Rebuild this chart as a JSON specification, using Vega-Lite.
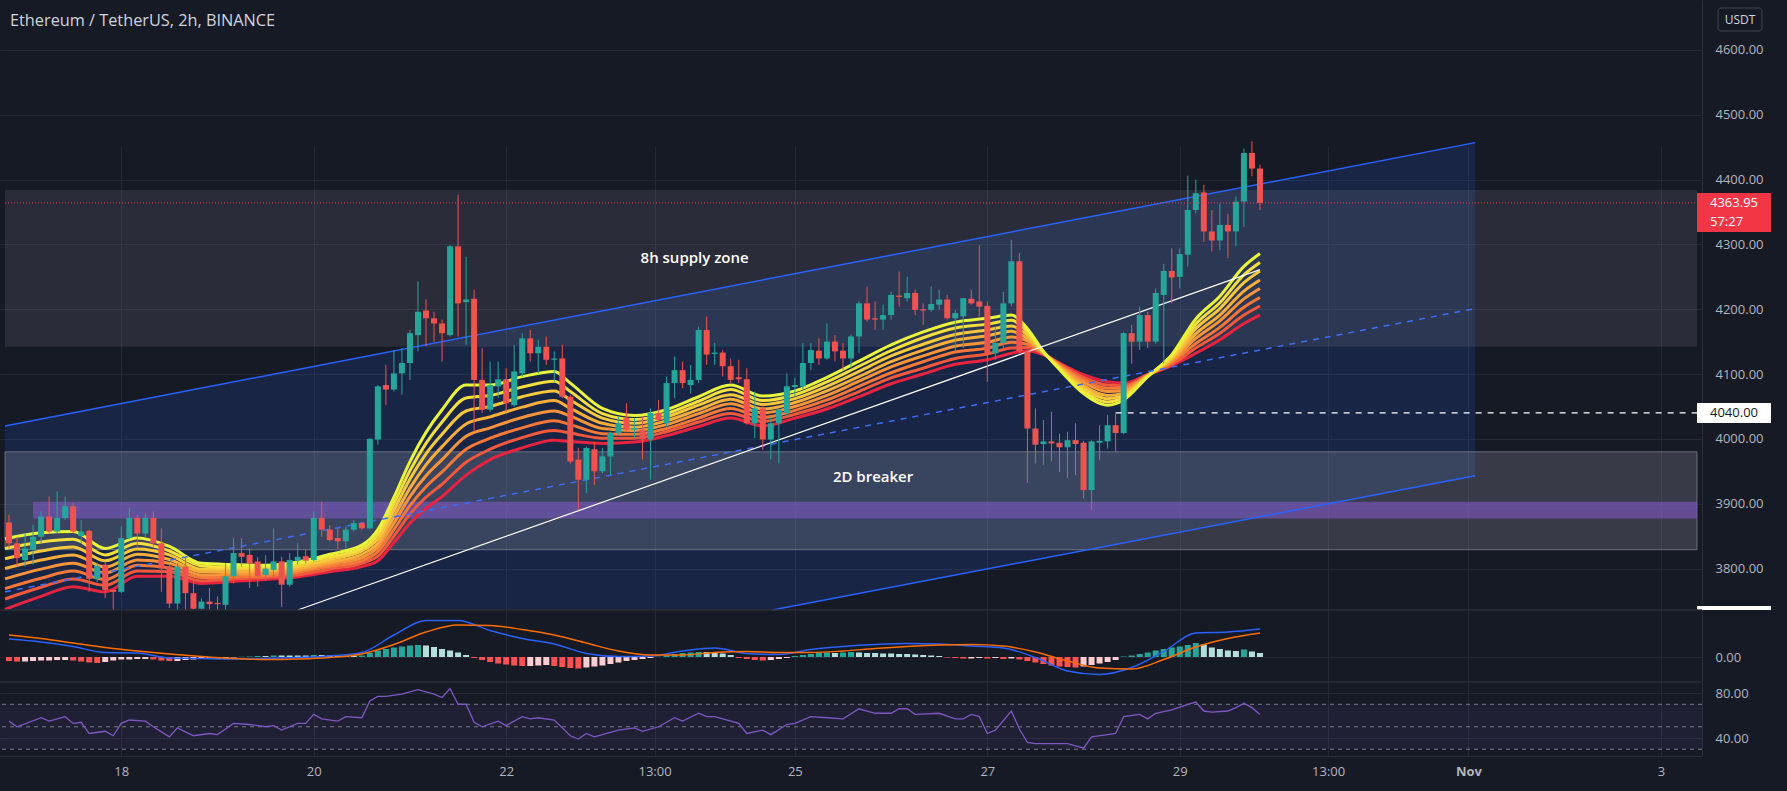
{
"$schema":"https://vega.github.io/schema/vega-lite/v6.json",
"width":1702,"height":756,
"autosize":{"type":"none"},
"padding":{"left":0,"top":0,"right":85,"bottom":35},
"background":"#161a25",
"config":{"view":{"stroke":null},"axis":{"tickSize":0,"ticks":false,"labelFont":"Open Sans"},"text":{"font":"Open Sans"},"title":{"font":"Open Sans"}},
"title":{"text":"Ethereum / TetherUS, 2h, BINANCE","anchor":"start","frame":"group","orient":"top","offset":-13,"baseline":"top","dx":10,"dy":16,"fontSize":16.3,"fontWeight":"normal","color":"#d1d4dc"},
"datasets":{
"candles":[
{"t":"2021-10-16T20:00Z","o":3871,"h":3883,"l":3831,"c":3839,"m":-8,"ms":"c"},
{"t":"2021-10-16T22:00Z","o":3839,"h":3849,"l":3803,"c":3816,"m":-9,"ms":"c"},
{"t":"2021-10-17T00:00Z","o":3813,"h":3854,"l":3803,"c":3831,"m":-9,"ms":"d"},
{"t":"2021-10-17T02:00Z","o":3829,"h":3867,"l":3806,"c":3849,"m":-8,"ms":"d"},
{"t":"2021-10-17T04:00Z","o":3849,"h":3888,"l":3839,"c":3880,"m":-7,"ms":"d"},
{"t":"2021-10-17T06:00Z","o":3880,"h":3911,"l":3854,"c":3857,"m":-7,"ms":"d"},
{"t":"2021-10-17T08:00Z","o":3857,"h":3919,"l":3854,"c":3878,"m":-6,"ms":"d"},
{"t":"2021-10-17T10:00Z","o":3878,"h":3911,"l":3875,"c":3896,"m":-6,"ms":"d"},
{"t":"2021-10-17T12:00Z","o":3896,"h":3901,"l":3854,"c":3857,"m":-7,"ms":"c"},
{"t":"2021-10-17T14:00Z","o":3850,"h":3875,"l":3838,"c":3857,"m":-9,"ms":"c"},
{"t":"2021-10-17T16:00Z","o":3858,"h":3860,"l":3764,"c":3784,"m":-11,"ms":"c"},
{"t":"2021-10-17T18:00Z","o":3784,"h":3809,"l":3779,"c":3804,"m":-12,"ms":"c"},
{"t":"2021-10-17T20:00Z","o":3806,"h":3811,"l":3754,"c":3767,"m":-10,"ms":"d"},
{"t":"2021-10-17T22:00Z","o":3767,"h":3767,"l":3736,"c":3764,"m":-7,"ms":"d"},
{"t":"2021-10-18T00:00Z","o":3764,"h":3865,"l":3762,"c":3847,"m":-5,"ms":"d"},
{"t":"2021-10-18T02:00Z","o":3847,"h":3893,"l":3845,"c":3878,"m":-5,"ms":"d"},
{"t":"2021-10-18T04:00Z","o":3878,"h":3883,"l":3834,"c":3854,"m":-4,"ms":"d"},
{"t":"2021-10-18T06:00Z","o":3854,"h":3885,"l":3849,"c":3878,"m":-4,"ms":"d"},
{"t":"2021-10-18T08:00Z","o":3878,"h":3888,"l":3834,"c":3839,"m":-5,"ms":"c"},
{"t":"2021-10-18T10:00Z","o":3839,"h":3862,"l":3764,"c":3800,"m":-7,"ms":"c"},
{"t":"2021-10-18T12:00Z","o":3803,"h":3806,"l":3739,"c":3746,"m":-8,"ms":"c"},
{"t":"2021-10-18T14:00Z","o":3746,"h":3808,"l":3736,"c":3803,"m":-8,"ms":"d"},
{"t":"2021-10-18T16:00Z","o":3803,"h":3818,"l":3736,"c":3762,"m":-6,"ms":"d"},
{"t":"2021-10-18T18:00Z","o":3762,"h":3780,"l":3736,"c":3738,"m":-5,"ms":"d"},
{"t":"2021-10-18T20:00Z","o":3738,"h":3754,"l":3736,"c":3749,"m":-4,"ms":"d"},
{"t":"2021-10-18T22:00Z","o":3749,"h":3770,"l":3736,"c":3745,"m":-3,"ms":"d"},
{"t":"2021-10-19T00:00Z","o":3747,"h":3757,"l":3736,"c":3745,"m":-3,"ms":"d"},
{"t":"2021-10-19T02:00Z","o":3744,"h":3808,"l":3736,"c":3788,"m":-2,"ms":"d"},
{"t":"2021-10-19T04:00Z","o":3788,"h":3847,"l":3777,"c":3824,"m":-1,"ms":"d"},
{"t":"2021-10-19T06:00Z","o":3824,"h":3847,"l":3803,"c":3818,"m":0.5,"ms":"a"},
{"t":"2021-10-19T08:00Z","o":3821,"h":3831,"l":3770,"c":3808,"m":1,"ms":"a"},
{"t":"2021-10-19T10:00Z","o":3811,"h":3818,"l":3772,"c":3788,"m":2,"ms":"a"},
{"t":"2021-10-19T12:00Z","o":3790,"h":3821,"l":3782,"c":3800,"m":2,"ms":"b"},
{"t":"2021-10-19T14:00Z","o":3798,"h":3862,"l":3788,"c":3811,"m":3,"ms":"a"},
{"t":"2021-10-19T16:00Z","o":3811,"h":3818,"l":3741,"c":3775,"m":3,"ms":"b"},
{"t":"2021-10-19T18:00Z","o":3775,"h":3824,"l":3772,"c":3813,"m":3,"ms":"b"},
{"t":"2021-10-19T20:00Z","o":3812,"h":3839,"l":3806,"c":3818,"m":3,"ms":"b"},
{"t":"2021-10-19T22:00Z","o":3819,"h":3829,"l":3808,"c":3812,"m":3,"ms":"b"},
{"t":"2021-10-20T00:00Z","o":3813,"h":3888,"l":3811,"c":3878,"m":4,"ms":"a"},
{"t":"2021-10-20T02:00Z","o":3878,"h":3903,"l":3849,"c":3860,"m":4,"ms":"b"},
{"t":"2021-10-20T04:00Z","o":3860,"h":3867,"l":3842,"c":3844,"m":3,"ms":"b"},
{"t":"2021-10-20T06:00Z","o":3847,"h":3862,"l":3829,"c":3842,"m":3,"ms":"b"},
{"t":"2021-10-20T08:00Z","o":3842,"h":3865,"l":3831,"c":3860,"m":2,"ms":"b"},
{"t":"2021-10-20T10:00Z","o":3860,"h":3875,"l":3857,"c":3870,"m":2,"ms":"b"},
{"t":"2021-10-20T12:00Z","o":3870,"h":3872,"l":3860,"c":3862,"m":3,"ms":"a"},
{"t":"2021-10-20T14:00Z","o":3862,"h":4001,"l":3860,"c":4000,"m":8,"ms":"a"},
{"t":"2021-10-20T16:00Z","o":3999,"h":4083,"l":3991,"c":4081,"m":13,"ms":"a"},
{"t":"2021-10-20T18:00Z","o":4083,"h":4114,"l":4052,"c":4076,"m":16,"ms":"a"},
{"t":"2021-10-20T20:00Z","o":4076,"h":4137,"l":4073,"c":4101,"m":19,"ms":"a"},
{"t":"2021-10-20T22:00Z","o":4101,"h":4140,"l":4068,"c":4117,"m":21,"ms":"a"},
{"t":"2021-10-21T00:00Z","o":4117,"h":4168,"l":4091,"c":4163,"m":23,"ms":"a"},
{"t":"2021-10-21T02:00Z","o":4160,"h":4243,"l":4135,"c":4196,"m":24,"ms":"a"},
{"t":"2021-10-21T04:00Z","o":4198,"h":4215,"l":4143,"c":4186,"m":23,"ms":"b"},
{"t":"2021-10-21T06:00Z","o":4186,"h":4196,"l":4150,"c":4178,"m":20,"ms":"b"},
{"t":"2021-10-21T08:00Z","o":4178,"h":4184,"l":4119,"c":4163,"m":16,"ms":"b"},
{"t":"2021-10-21T10:00Z","o":4160,"h":4299,"l":4158,"c":4297,"m":13,"ms":"b"},
{"t":"2021-10-21T12:00Z","o":4297,"h":4377,"l":4158,"c":4209,"m":9,"ms":"b"},
{"t":"2021-10-21T14:00Z","o":4211,"h":4281,"l":4145,"c":4215,"m":4,"ms":"b"},
{"t":"2021-10-21T16:00Z","o":4216,"h":4230,"l":4011,"c":4091,"m":-2,"ms":"c"},
{"t":"2021-10-21T18:00Z","o":4091,"h":4140,"l":4040,"c":4045,"m":-6,"ms":"c"},
{"t":"2021-10-21T20:00Z","o":4045,"h":4119,"l":4042,"c":4083,"m":-10,"ms":"c"},
{"t":"2021-10-21T22:00Z","o":4081,"h":4119,"l":4063,"c":4092,"m":-13,"ms":"c"},
{"t":"2021-10-22T00:00Z","o":4092,"h":4109,"l":4042,"c":4055,"m":-15,"ms":"c"},
{"t":"2021-10-22T02:00Z","o":4052,"h":4145,"l":4050,"c":4104,"m":-17,"ms":"c"},
{"t":"2021-10-22T04:00Z","o":4101,"h":4163,"l":4096,"c":4155,"m":-18,"ms":"c"},
{"t":"2021-10-22T06:00Z","o":4155,"h":4168,"l":4119,"c":4132,"m":-18,"ms":"d"},
{"t":"2021-10-22T08:00Z","o":4132,"h":4153,"l":4101,"c":4142,"m":-17,"ms":"d"},
{"t":"2021-10-22T10:00Z","o":4142,"h":4158,"l":4114,"c":4122,"m":-16,"ms":"d"},
{"t":"2021-10-22T12:00Z","o":4122,"h":4135,"l":4088,"c":4124,"m":-18,"ms":"c"},
{"t":"2021-10-22T14:00Z","o":4124,"h":4145,"l":4063,"c":4065,"m":-20,"ms":"c"},
{"t":"2021-10-22T16:00Z","o":4065,"h":4068,"l":3962,"c":3965,"m":-22,"ms":"c"},
{"t":"2021-10-22T18:00Z","o":3968,"h":3986,"l":3890,"c":3937,"m":-23,"ms":"c"},
{"t":"2021-10-22T20:00Z","o":3937,"h":3988,"l":3916,"c":3986,"m":-21,"ms":"d"},
{"t":"2021-10-22T22:00Z","o":3984,"h":3996,"l":3929,"c":3950,"m":-19,"ms":"d"},
{"t":"2021-10-23T00:00Z","o":3950,"h":3986,"l":3947,"c":3973,"m":-17,"ms":"d"},
{"t":"2021-10-23T02:00Z","o":3973,"h":4011,"l":3944,"c":4009,"m":-14,"ms":"d"},
{"t":"2021-10-23T04:00Z","o":4009,"h":4034,"l":4006,"c":4024,"m":-11,"ms":"d"},
{"t":"2021-10-23T06:00Z","o":4032,"h":4055,"l":4011,"c":4014,"m":-8,"ms":"d"},
{"t":"2021-10-23T08:00Z","o":4014,"h":4032,"l":4001,"c":4016,"m":-6,"ms":"d"},
{"t":"2021-10-23T10:00Z","o":4014,"h":4034,"l":3968,"c":3999,"m":-4,"ms":"d"},
{"t":"2021-10-23T12:00Z","o":3999,"h":4047,"l":3937,"c":4040,"m":-2,"ms":"d"},
{"t":"2021-10-23T14:00Z","o":4040,"h":4060,"l":4027,"c":4029,"m":0.5,"ms":"a"},
{"t":"2021-10-23T16:00Z","o":4024,"h":4096,"l":4019,"c":4086,"m":3,"ms":"a"},
{"t":"2021-10-23T18:00Z","o":4086,"h":4127,"l":4063,"c":4106,"m":6,"ms":"a"},
{"t":"2021-10-23T20:00Z","o":4106,"h":4119,"l":4078,"c":4086,"m":8,"ms":"a"},
{"t":"2021-10-23T22:00Z","o":4083,"h":4114,"l":4070,"c":4091,"m":9,"ms":"a"},
{"t":"2021-10-24T00:00Z","o":4091,"h":4173,"l":4086,"c":4168,"m":10,"ms":"a"},
{"t":"2021-10-24T02:00Z","o":4168,"h":4189,"l":4114,"c":4130,"m":10,"ms":"b"},
{"t":"2021-10-24T04:00Z","o":4131,"h":4148,"l":4114,"c":4133,"m":9,"ms":"b"},
{"t":"2021-10-24T06:00Z","o":4133,"h":4137,"l":4096,"c":4112,"m":7,"ms":"b"},
{"t":"2021-10-24T08:00Z","o":4112,"h":4124,"l":4086,"c":4091,"m":4,"ms":"b"},
{"t":"2021-10-24T10:00Z","o":4095,"h":4122,"l":4086,"c":4092,"m":-2,"ms":"c"},
{"t":"2021-10-24T12:00Z","o":4092,"h":4109,"l":4022,"c":4024,"m":-4,"ms":"c"},
{"t":"2021-10-24T14:00Z","o":4024,"h":4073,"l":4001,"c":4047,"m":-6,"ms":"c"},
{"t":"2021-10-24T16:00Z","o":4047,"h":4052,"l":3983,"c":3999,"m":-7,"ms":"c"},
{"t":"2021-10-24T18:00Z","o":3999,"h":4034,"l":3968,"c":4024,"m":-6,"ms":"d"},
{"t":"2021-10-24T20:00Z","o":4024,"h":4047,"l":3962,"c":4045,"m":-4,"ms":"d"},
{"t":"2021-10-24T22:00Z","o":4040,"h":4101,"l":4034,"c":4081,"m":-2,"ms":"d"},
{"t":"2021-10-25T00:00Z","o":4080,"h":4094,"l":4065,"c":4083,"m":2,"ms":"a"},
{"t":"2021-10-25T02:00Z","o":4081,"h":4148,"l":4076,"c":4117,"m":4,"ms":"a"},
{"t":"2021-10-25T04:00Z","o":4117,"h":4148,"l":4106,"c":4137,"m":6,"ms":"a"},
{"t":"2021-10-25T06:00Z","o":4136,"h":4155,"l":4114,"c":4124,"m":8,"ms":"a"},
{"t":"2021-10-25T08:00Z","o":4124,"h":4178,"l":4122,"c":4150,"m":9,"ms":"a"},
{"t":"2021-10-25T10:00Z","o":4150,"h":4160,"l":4119,"c":4135,"m":8,"ms":"b"},
{"t":"2021-10-25T12:00Z","o":4136,"h":4148,"l":4106,"c":4124,"m":9,"ms":"a"},
{"t":"2021-10-25T14:00Z","o":4124,"h":4161,"l":4109,"c":4158,"m":10,"ms":"a"},
{"t":"2021-10-25T16:00Z","o":4158,"h":4212,"l":4132,"c":4209,"m":9,"ms":"b"},
{"t":"2021-10-25T18:00Z","o":4209,"h":4235,"l":4181,"c":4184,"m":8,"ms":"b"},
{"t":"2021-10-25T20:00Z","o":4186,"h":4212,"l":4168,"c":4184,"m":8,"ms":"b"},
{"t":"2021-10-25T22:00Z","o":4184,"h":4207,"l":4168,"c":4191,"m":7,"ms":"b"},
{"t":"2021-10-26T00:00Z","o":4191,"h":4227,"l":4184,"c":4222,"m":7,"ms":"b"},
{"t":"2021-10-26T02:00Z","o":4221,"h":4258,"l":4204,"c":4219,"m":6,"ms":"b"},
{"t":"2021-10-26T04:00Z","o":4217,"h":4250,"l":4212,"c":4225,"m":6,"ms":"b"},
{"t":"2021-10-26T06:00Z","o":4225,"h":4230,"l":4191,"c":4199,"m":5,"ms":"b"},
{"t":"2021-10-26T08:00Z","o":4200,"h":4209,"l":4176,"c":4198,"m":4,"ms":"b"},
{"t":"2021-10-26T10:00Z","o":4199,"h":4235,"l":4196,"c":4208,"m":3,"ms":"b"},
{"t":"2021-10-26T12:00Z","o":4207,"h":4230,"l":4199,"c":4215,"m":2,"ms":"b"},
{"t":"2021-10-26T14:00Z","o":4215,"h":4222,"l":4184,"c":4186,"m":-1,"ms":"c"},
{"t":"2021-10-26T16:00Z","o":4186,"h":4199,"l":4135,"c":4194,"m":-2,"ms":"c"},
{"t":"2021-10-26T18:00Z","o":4189,"h":4217,"l":4140,"c":4217,"m":-3,"ms":"c"},
{"t":"2021-10-26T20:00Z","o":4216,"h":4230,"l":4207,"c":4209,"m":-3,"ms":"d"},
{"t":"2021-10-26T22:00Z","o":4212,"h":4299,"l":4189,"c":4204,"m":-2,"ms":"d"},
{"t":"2021-10-27T00:00Z","o":4205,"h":4212,"l":4088,"c":4132,"m":-3,"ms":"c"},
{"t":"2021-10-27T02:00Z","o":4132,"h":4173,"l":4122,"c":4148,"m":-2,"ms":"d"},
{"t":"2021-10-27T04:00Z","o":4148,"h":4227,"l":4140,"c":4209,"m":-4,"ms":"c"},
{"t":"2021-10-27T06:00Z","o":4209,"h":4307,"l":4204,"c":4274,"m":-3,"ms":"d"},
{"t":"2021-10-27T08:00Z","o":4274,"h":4287,"l":4132,"c":4135,"m":-5,"ms":"c"},
{"t":"2021-10-27T10:00Z","o":4135,"h":4137,"l":3932,"c":4016,"m":-8,"ms":"c"},
{"t":"2021-10-27T12:00Z","o":4016,"h":4047,"l":3962,"c":3991,"m":-11,"ms":"c"},
{"t":"2021-10-27T14:00Z","o":3992,"h":4029,"l":3960,"c":3996,"m":-14,"ms":"c"},
{"t":"2021-10-27T16:00Z","o":3996,"h":4042,"l":3965,"c":3993,"m":-17,"ms":"c"},
{"t":"2021-10-27T18:00Z","o":3994,"h":4008,"l":3949,"c":3987,"m":-19,"ms":"c"},
{"t":"2021-10-27T20:00Z","o":3987,"h":4011,"l":3939,"c":3998,"m":-20,"ms":"c"},
{"t":"2021-10-27T22:00Z","o":3998,"h":4024,"l":3944,"c":3992,"m":-21,"ms":"c"},
{"t":"2021-10-28T00:00Z","o":3994,"h":3997,"l":3908,"c":3921,"m":-19,"ms":"d"},
{"t":"2021-10-28T02:00Z","o":3921,"h":3998,"l":3890,"c":3996,"m":-16,"ms":"d"},
{"t":"2021-10-28T04:00Z","o":3994,"h":4021,"l":3967,"c":3997,"m":-13,"ms":"d"},
{"t":"2021-10-28T06:00Z","o":3996,"h":4037,"l":3985,"c":4021,"m":-10,"ms":"d"},
{"t":"2021-10-28T08:00Z","o":4021,"h":4039,"l":3980,"c":4009,"m":-6,"ms":"d"},
{"t":"2021-10-28T10:00Z","o":4009,"h":4165,"l":4007,"c":4163,"m":1,"ms":"a"},
{"t":"2021-10-28T12:00Z","o":4163,"h":4176,"l":4116,"c":4150,"m":3,"ms":"a"},
{"t":"2021-10-28T14:00Z","o":4150,"h":4204,"l":4137,"c":4191,"m":6,"ms":"a"},
{"t":"2021-10-28T16:00Z","o":4191,"h":4196,"l":4140,"c":4150,"m":9,"ms":"a"},
{"t":"2021-10-28T18:00Z","o":4150,"h":4232,"l":4147,"c":4225,"m":13,"ms":"a"},
{"t":"2021-10-28T20:00Z","o":4222,"h":4270,"l":4116,"c":4259,"m":16,"ms":"a"},
{"t":"2021-10-28T22:00Z","o":4259,"h":4294,"l":4209,"c":4249,"m":19,"ms":"a"},
{"t":"2021-10-29T00:00Z","o":4250,"h":4294,"l":4232,"c":4285,"m":21,"ms":"a"},
{"t":"2021-10-29T02:00Z","o":4284,"h":4406,"l":4266,"c":4353,"m":24,"ms":"a"},
{"t":"2021-10-29T04:00Z","o":4353,"h":4400,"l":4348,"c":4379,"m":28,"ms":"a"},
{"t":"2021-10-29T06:00Z","o":4380,"h":4392,"l":4304,"c":4320,"m":25,"ms":"b"},
{"t":"2021-10-29T08:00Z","o":4320,"h":4353,"l":4289,"c":4306,"m":19,"ms":"b"},
{"t":"2021-10-29T10:00Z","o":4306,"h":4363,"l":4291,"c":4330,"m":16,"ms":"b"},
{"t":"2021-10-29T12:00Z","o":4330,"h":4347,"l":4279,"c":4320,"m":13,"ms":"b"},
{"t":"2021-10-29T14:00Z","o":4320,"h":4374,"l":4297,"c":4366,"m":12,"ms":"b"},
{"t":"2021-10-29T16:00Z","o":4366,"h":4448,"l":4327,"c":4441,"m":15,"ms":"a"},
{"t":"2021-10-29T18:00Z","o":4441,"h":4459,"l":4405,"c":4417,"m":11,"ms":"b"},
{"t":"2021-10-29T20:00Z","o":4417,"h":4423,"l":4353,"c":4363.95,"m":8,"ms":"b"}
],
"ribbon":[
{"t":"2021-10-16T19:00Z","e1":3846,"e2":3831,"e3":3815,"e4":3800,"e5":3784,"e6":3769,"e7":3753,"e8":3737},
{"t":"2021-10-17T04:00Z","e1":3855,"e2":3841,"e3":3827,"e4":3813,"e5":3799,"e6":3785,"e7":3771,"e8":3757},
{"t":"2021-10-17T12:00Z","e1":3857,"e2":3845,"e3":3833,"e4":3821,"e5":3808,"e6":3796,"e7":3784,"e8":3772},
{"t":"2021-10-17T20:00Z","e1":3831,"e2":3821,"e3":3812,"e4":3802,"e5":3793,"e6":3783,"e7":3774,"e8":3764},
{"t":"2021-10-18T04:00Z","e1":3847,"e2":3839,"e3":3830,"e4":3822,"e5":3813,"e6":3805,"e7":3796,"e8":3788},
{"t":"2021-10-18T12:00Z","e1":3834,"e2":3827,"e3":3821,"e4":3814,"e5":3808,"e6":3801,"e7":3795,"e8":3788},
{"t":"2021-10-18T20:00Z","e1":3808,"e2":3804,"e3":3799,"e4":3795,"e5":3790,"e6":3786,"e7":3781,"e8":3777},
{"t":"2021-10-19T04:00Z","e1":3806,"e2":3802,"e3":3799,"e4":3795,"e5":3791,"e6":3787,"e7":3784,"e8":3780},
{"t":"2021-10-19T12:00Z","e1":3805,"e2":3802,"e3":3799,"e4":3796,"e5":3792,"e6":3789,"e7":3786,"e8":3783},
{"t":"2021-10-19T20:00Z","e1":3810,"e2":3807,"e3":3803,"e4":3800,"e5":3797,"e6":3794,"e7":3790,"e8":3787},
{"t":"2021-10-20T04:00Z","e1":3822,"e2":3818,"e3":3814,"e4":3810,"e5":3807,"e6":3803,"e7":3799,"e8":3795},
{"t":"2021-10-20T12:00Z","e1":3836,"e2":3831,"e3":3827,"e4":3822,"e5":3817,"e6":3812,"e7":3808,"e8":3803},
{"t":"2021-10-20T16:00Z","e1":3860,"e2":3853,"e3":3846,"e4":3839,"e5":3833,"e6":3826,"e7":3819,"e8":3812},
{"t":"2021-10-20T20:00Z","e1":3910,"e2":3900,"e3":3890,"e4":3880,"e5":3870,"e6":3860,"e7":3850,"e8":3840},
{"t":"2021-10-21T00:00Z","e1":3965,"e2":3951,"e3":3938,"e4":3924,"e5":3911,"e6":3897,"e7":3884,"e8":3870},
{"t":"2021-10-21T04:00Z","e1":4010,"e2":3993,"e3":3977,"e4":3960,"e5":3943,"e6":3926,"e7":3910,"e8":3893},
{"t":"2021-10-21T08:00Z","e1":4045,"e2":4026,"e3":4007,"e4":3988,"e5":3968,"e6":3949,"e7":3930,"e8":3911},
{"t":"2021-10-21T14:00Z","e1":4083,"e2":4063,"e3":4043,"e4":4023,"e5":4004,"e6":3984,"e7":3964,"e8":3944},
{"t":"2021-10-21T20:00Z","e1":4083,"e2":4067,"e3":4050,"e4":4034,"e5":4017,"e6":4001,"e7":3984,"e8":3968},
{"t":"2021-10-22T04:00Z","e1":4096,"e2":4080,"e3":4065,"e4":4049,"e5":4033,"e6":4017,"e7":4002,"e8":3986},
{"t":"2021-10-22T12:00Z","e1":4104,"e2":4089,"e3":4074,"e4":4059,"e5":4043,"e6":4028,"e7":4013,"e8":3998},
{"t":"2021-10-22T16:00Z","e1":4086,"e2":4073,"e3":4060,"e4":4047,"e5":4035,"e6":4022,"e7":4009,"e8":3996},
{"t":"2021-10-23T00:00Z","e1":4047,"e2":4039,"e3":4032,"e4":4024,"e5":4016,"e6":4008,"e7":4001,"e8":3993},
{"t":"2021-10-23T08:00Z","e1":4036,"e2":4030,"e3":4024,"e4":4018,"e5":4013,"e6":4007,"e7":4001,"e8":3995},
{"t":"2021-10-23T16:00Z","e1":4045,"e2":4039,"e3":4034,"e4":4028,"e5":4022,"e6":4016,"e7":4011,"e8":4005},
{"t":"2021-10-24T00:00Z","e1":4065,"e2":4058,"e3":4052,"e4":4045,"e5":4039,"e6":4032,"e7":4026,"e8":4019},
{"t":"2021-10-24T08:00Z","e1":4083,"e2":4076,"e3":4068,"e4":4061,"e5":4054,"e6":4047,"e7":4039,"e8":4032},
{"t":"2021-10-24T16:00Z","e1":4066,"e2":4059,"e3":4053,"e4":4046,"e5":4040,"e6":4033,"e7":4027,"e8":4020},
{"t":"2021-10-25T00:00Z","e1":4074,"e2":4068,"e3":4062,"e4":4056,"e5":4050,"e6":4044,"e7":4038,"e8":4032},
{"t":"2021-10-25T08:00Z","e1":4095,"e2":4088,"e3":4081,"e4":4074,"e5":4067,"e6":4060,"e7":4053,"e8":4046},
{"t":"2021-10-25T16:00Z","e1":4120,"e2":4112,"e3":4104,"e4":4096,"e5":4089,"e6":4081,"e7":4073,"e8":4065},
{"t":"2021-10-26T00:00Z","e1":4145,"e2":4136,"e3":4128,"e4":4119,"e5":4111,"e6":4102,"e7":4094,"e8":4085},
{"t":"2021-10-26T08:00Z","e1":4165,"e2":4156,"e3":4146,"e4":4137,"e5":4128,"e6":4119,"e7":4109,"e8":4100},
{"t":"2021-10-26T16:00Z","e1":4180,"e2":4171,"e3":4161,"e4":4152,"e5":4143,"e6":4134,"e7":4124,"e8":4115},
{"t":"2021-10-27T00:00Z","e1":4186,"e2":4177,"e3":4168,"e4":4159,"e5":4149,"e6":4140,"e7":4131,"e8":4122},
{"t":"2021-10-27T06:00Z","e1":4191,"e2":4183,"e3":4174,"e4":4166,"e5":4157,"e6":4149,"e7":4140,"e8":4132},
{"t":"2021-10-27T10:00Z","e1":4170,"e2":4165,"e3":4160,"e4":4155,"e5":4151,"e6":4146,"e7":4141,"e8":4136},
{"t":"2021-10-27T14:00Z","e1":4135,"e2":4134,"e3":4134,"e4":4133,"e5":4132,"e6":4131,"e7":4131,"e8":4130},
{"t":"2021-10-27T18:00Z","e1":4107,"e2":4108,"e3":4110,"e4":4111,"e5":4113,"e6":4114,"e7":4116,"e8":4117},
{"t":"2021-10-28T00:00Z","e1":4070,"e2":4074,"e3":4078,"e4":4082,"e5":4087,"e6":4091,"e7":4095,"e8":4099},
{"t":"2021-10-28T06:00Z","e1":4052,"e2":4057,"e3":4062,"e4":4067,"e5":4073,"e6":4078,"e7":4083,"e8":4088},
{"t":"2021-10-28T10:00Z","e1":4060,"e2":4064,"e3":4067,"e4":4071,"e5":4075,"e6":4079,"e7":4082,"e8":4086},
{"t":"2021-10-28T16:00Z","e1":4096,"e2":4096,"e3":4097,"e4":4097,"e5":4098,"e6":4098,"e7":4099,"e8":4099},
{"t":"2021-10-28T22:00Z","e1":4130,"e2":4128,"e3":4125,"e4":4123,"e5":4120,"e6":4118,"e7":4115,"e8":4113},
{"t":"2021-10-29T04:00Z","e1":4185,"e2":4177,"e3":4170,"e4":4162,"e5":4155,"e6":4147,"e7":4140,"e8":4132},
{"t":"2021-10-29T10:00Z","e1":4220,"e2":4210,"e3":4201,"e4":4191,"e5":4182,"e6":4172,"e7":4163,"e8":4153},
{"t":"2021-10-29T16:00Z","e1":4266,"e2":4253,"e3":4241,"e4":4228,"e5":4216,"e6":4203,"e7":4191,"e8":4178},
{"t":"2021-10-29T20:00Z","e1":4286,"e2":4272,"e3":4259,"e4":4245,"e5":4232,"e6":4218,"e7":4205,"e8":4191}
],
"macd":[
{"t":"2021-10-16T20:00Z","ml":36,"sl":44},{"t":"2021-10-17T04:00Z","ml":30,"sl":37},{"t":"2021-10-17T12:00Z","ml":21,"sl":28},{"t":"2021-10-17T20:00Z","ml":9,"sl":19},
{"t":"2021-10-18T04:00Z","ml":8,"sl":12},{"t":"2021-10-18T12:00Z","ml":-2,"sl":6},{"t":"2021-10-18T20:00Z","ml":-3,"sl":1},{"t":"2021-10-19T04:00Z","ml":-4,"sl":-3},
{"t":"2021-10-19T12:00Z","ml":-3,"sl":-5},{"t":"2021-10-19T20:00Z","ml":-1,"sl":-4},{"t":"2021-10-20T04:00Z","ml":2,"sl":-1},{"t":"2021-10-20T12:00Z","ml":9,"sl":6},
{"t":"2021-10-20T20:00Z","ml":44,"sl":25},{"t":"2021-10-21T04:00Z","ml":73,"sl":50},{"t":"2021-10-21T12:00Z","ml":73,"sl":64},{"t":"2021-10-21T20:00Z","ml":53,"sl":63},
{"t":"2021-10-22T04:00Z","ml":37,"sl":55},{"t":"2021-10-22T12:00Z","ml":26,"sl":44},{"t":"2021-10-22T20:00Z","ml":7,"sl":28},{"t":"2021-10-23T04:00Z","ml":1,"sl":12},
{"t":"2021-10-23T12:00Z","ml":2,"sl":4},{"t":"2021-10-23T20:00Z","ml":12,"sl":4},{"t":"2021-10-24T04:00Z","ml":18,"sl":9},{"t":"2021-10-24T12:00Z","ml":7,"sl":11},
{"t":"2021-10-24T20:00Z","ml":5,"sl":9},{"t":"2021-10-25T04:00Z","ml":15,"sl":9},{"t":"2021-10-25T12:00Z","ml":21,"sl":12},{"t":"2021-10-25T20:00Z","ml":25,"sl":17},
{"t":"2021-10-26T04:00Z","ml":27,"sl":21},{"t":"2021-10-26T12:00Z","ml":26,"sl":24},{"t":"2021-10-26T20:00Z","ml":22,"sl":25},{"t":"2021-10-27T04:00Z","ml":18,"sl":22},
{"t":"2021-10-27T12:00Z","ml":-1,"sl":10},{"t":"2021-10-27T20:00Z","ml":-28,"sl":-8},{"t":"2021-10-28T04:00Z","ml":-35,"sl":-22},{"t":"2021-10-28T12:00Z","ml":-21,"sl":-24},
{"t":"2021-10-28T20:00Z","ml":11,"sl":-5},{"t":"2021-10-29T04:00Z","ml":48,"sl":20},{"t":"2021-10-29T12:00Z","ml":50,"sl":37},{"t":"2021-10-29T20:00Z","ml":56,"sl":48}
],
"rsi":[
{"t":"2021-10-16T20:00Z","r":55},{"t":"2021-10-16T22:00Z","r":50},{"t":"2021-10-17T04:00Z","r":58},{"t":"2021-10-17T06:00Z","r":55},{"t":"2021-10-17T10:00Z","r":59},{"t":"2021-10-17T12:00Z","r":53},{"t":"2021-10-17T14:00Z","r":54},{"t":"2021-10-17T16:00Z","r":44},{"t":"2021-10-17T20:00Z","r":46},{"t":"2021-10-17T22:00Z","r":42},
{"t":"2021-10-18T00:00Z","r":53},{"t":"2021-10-18T02:00Z","r":56},{"t":"2021-10-18T06:00Z","r":55},{"t":"2021-10-18T08:00Z","r":50},{"t":"2021-10-18T12:00Z","r":41},{"t":"2021-10-18T14:00Z","r":49},{"t":"2021-10-18T18:00Z","r":42},{"t":"2021-10-18T22:00Z","r":44},
{"t":"2021-10-19T00:00Z","r":43},{"t":"2021-10-19T04:00Z","r":53},{"t":"2021-10-19T08:00Z","r":52},{"t":"2021-10-19T12:00Z","r":50},{"t":"2021-10-19T14:00Z","r":51},{"t":"2021-10-19T16:00Z","r":47},{"t":"2021-10-19T20:00Z","r":53},{"t":"2021-10-19T22:00Z","r":53},
{"t":"2021-10-20T00:00Z","r":61},{"t":"2021-10-20T02:00Z","r":57},{"t":"2021-10-20T06:00Z","r":55},{"t":"2021-10-20T08:00Z","r":59},{"t":"2021-10-20T12:00Z","r":58},{"t":"2021-10-20T14:00Z","r":73},{"t":"2021-10-20T16:00Z","r":77},{"t":"2021-10-20T18:00Z","r":77},{"t":"2021-10-20T22:00Z","r":79},
{"t":"2021-10-21T02:00Z","r":83},{"t":"2021-10-21T06:00Z","r":79},{"t":"2021-10-21T08:00Z","r":76},{"t":"2021-10-21T10:00Z","r":84},{"t":"2021-10-21T12:00Z","r":70},{"t":"2021-10-21T14:00Z","r":70},{"t":"2021-10-21T16:00Z","r":54},{"t":"2021-10-21T18:00Z","r":50},{"t":"2021-10-21T22:00Z","r":55},
{"t":"2021-10-22T00:00Z","r":51},{"t":"2021-10-22T04:00Z","r":59},{"t":"2021-10-22T06:00Z","r":57},{"t":"2021-10-22T08:00Z","r":58},{"t":"2021-10-22T12:00Z","r":56},{"t":"2021-10-22T16:00Z","r":42},{"t":"2021-10-22T18:00Z","r":39},{"t":"2021-10-22T20:00Z","r":44},{"t":"2021-10-22T22:00Z","r":41},
{"t":"2021-10-23T04:00Z","r":47},{"t":"2021-10-23T08:00Z","r":49},{"t":"2021-10-23T10:00Z","r":46},{"t":"2021-10-23T14:00Z","r":50},{"t":"2021-10-23T18:00Z","r":58},{"t":"2021-10-23T20:00Z","r":55},
{"t":"2021-10-24T00:00Z","r":62},{"t":"2021-10-24T02:00Z","r":59},{"t":"2021-10-24T04:00Z","r":59},{"t":"2021-10-24T10:00Z","r":53},{"t":"2021-10-24T12:00Z","r":44},{"t":"2021-10-24T16:00Z","r":47},{"t":"2021-10-24T18:00Z","r":43},{"t":"2021-10-24T22:00Z","r":52},
{"t":"2021-10-25T00:00Z","r":53},{"t":"2021-10-25T04:00Z","r":59},{"t":"2021-10-25T08:00Z","r":58},{"t":"2021-10-25T12:00Z","r":57},{"t":"2021-10-25T16:00Z","r":66},{"t":"2021-10-25T20:00Z","r":62},
{"t":"2021-10-26T00:00Z","r":62},{"t":"2021-10-26T02:00Z","r":66},{"t":"2021-10-26T04:00Z","r":66},{"t":"2021-10-26T06:00Z","r":61},{"t":"2021-10-26T12:00Z","r":62},{"t":"2021-10-26T16:00Z","r":57},{"t":"2021-10-26T18:00Z","r":57},{"t":"2021-10-26T20:00Z","r":61},{"t":"2021-10-26T22:00Z","r":59},
{"t":"2021-10-27T00:00Z","r":44},{"t":"2021-10-27T02:00Z","r":47},{"t":"2021-10-27T06:00Z","r":64},{"t":"2021-10-27T08:00Z","r":48},{"t":"2021-10-27T10:00Z","r":36},{"t":"2021-10-27T12:00Z","r":35},{"t":"2021-10-27T16:00Z","r":35},{"t":"2021-10-27T20:00Z","r":35},{"t":"2021-10-27T22:00Z","r":33},
{"t":"2021-10-28T00:00Z","r":31},{"t":"2021-10-28T02:00Z","r":41},{"t":"2021-10-28T06:00Z","r":43},{"t":"2021-10-28T08:00Z","r":44},{"t":"2021-10-28T10:00Z","r":59},{"t":"2021-10-28T14:00Z","r":61},{"t":"2021-10-28T16:00Z","r":57},{"t":"2021-10-28T18:00Z","r":62},{"t":"2021-10-28T22:00Z","r":65},
{"t":"2021-10-29T02:00Z","r":70},{"t":"2021-10-29T04:00Z","r":72},{"t":"2021-10-29T06:00Z","r":64},{"t":"2021-10-29T08:00Z","r":63},{"t":"2021-10-29T12:00Z","r":64},{"t":"2021-10-29T14:00Z","r":67},{"t":"2021-10-29T16:00Z","r":71},{"t":"2021-10-29T18:00Z","r":67},{"t":"2021-10-29T20:00Z","r":61}
],
"chan":[{"t":"2021-10-16T19:00Z","up":4020,"lo":3736},{"t":"2021-10-24T18:24Z","up":4248,"lo":3736},{"t":"2021-11-01T01:40Z","up":4457,"lo":3943}],
"chanlines":[{"t":"2021-10-16T19:00Z","v":4020,"s":"upper"},{"t":"2021-11-01T01:40Z","v":4457,"s":"upper"},{"t":"2021-10-24T18:24Z","v":3736,"s":"lower"},{"t":"2021-11-01T01:40Z","v":3943,"s":"lower"}],
"chanmid":[{"t":"2021-10-16T19:00Z","v":3764},{"t":"2021-11-01T01:40Z","v":4201}],
"trend":[{"t":"2021-10-19T20:00Z","v":3736},{"t":"2021-10-29T20:00Z","v":4261}],
"zones":[
{"z":"supply","t0":"2021-10-16T19:00Z","t1":"2021-11-03T09:00Z","lo":4142,"hi":4384},
{"z":"breaker","t0":"2021-10-16T19:00Z","t1":"2021-11-03T09:00Z","lo":3829,"hi":3980},
{"z":"purple","t0":"2021-10-17T02:00Z","t1":"2021-11-03T09:00Z","lo":3877,"hi":3903}
],
"notes":[{"txt":"8h supply zone","t":"2021-10-23T23:00Z","v":4279},{"txt":"2D breaker","t":"2021-10-25T19:30Z","v":3941}],
"levels":[
{"k":"last","v":4363.95,"t0":"2021-10-16T19:00Z","t1":"2021-11-03T09:00Z","lab":"4363.95","sub":"57:27"},
{"k":"lvl","v":4040,"t0":"2021-10-28T08:00Z","t1":"2021-11-03T09:00Z","lab":"4040.00"},
{"k":"edge","v":3736,"t0":"2021-11-03T09:00Z","t1":"2021-11-03T09:00Z","lab":""},
{"k":"unit","v":4677,"t0":"2021-11-03T09:00Z","t1":"2021-11-03T09:00Z","lab":"USDT"}
],
"rsilev":[{"v":70},{"v":50},{"v":30}],
"panes":[{"p":"macdtop","v":94},{"p":"rsitop","v":89.8}]
},
"layer":[
 {"data":{"name":"chan"},"mark":{"type":"area","color":"#2962ff","opacity":0.15},
  "encoding":{"x":{"field":"t","type":"temporal","scale":{"type":"utc","nice":false,"domain":[{"year":2021,"month":10,"date":16,"hours":19,"utc":true},{"year":2021,"month":11,"date":3,"hours":9,"utc":true}]},"title":null,
    "axis":{"orient":"bottom","values":[1634515200000,1634688000000,1634860800000,1634994000000,1635120000000,1635292800000,1635465600000,1635598800000,1635724800000,1635897600000],
     "labelExpr":"utcFormat(datum.value, '%H') == '13' ? '13:00' : (utcFormat(datum.value, '%d') == '01' ? 'Nov' : utcFormat(datum.value, '%-d'))",
     "labelFontWeight":{"condition":{"test":"utcFormat(datum.value, '%d') == '01'","value":"bold"},"value":"normal"},
     "grid":true,"gridColor":"#242834","domain":true,"domainColor":"#2a2e39","labelColor":"#b2b5be","labelFontSize":13,"labelPadding":9,"labelOverlap":false,"labelFlush":false,"labelBound":false,"title":null}},
   "y":{"field":"up","type":"quantitative","scale":{"domain":[3736,4677],"range":[610,0],"nice":false,"zero":false},"axis":{"orient":"right","values":[3800,3900,4000,4100,4200,4300,4400,4500,4600],"format":".2f","grid":true,"gridColor":"#242834","domain":true,"domainColor":"#2a2e39","labelColor":"#b2b5be","labelFontSize":13,"labelPadding":13,"title":null}},
   "y2":{"field":"lo"}}},
 {"data":{"name":"zones"},"mark":{"type":"rect","strokeWidth":1},
  "encoding":{"x":{"field":"t0","type":"temporal","title":null},"x2":{"field":"t1"},
   "y":{"field":"lo","type":"quantitative","scale":{"domain":[3736,4677],"range":[610,0],"nice":false,"zero":false},"axis":null},"y2":{"field":"hi"},
   "fill":{"condition":{"test":"datum.z=='purple'","value":"#7e57c2"},"value":"#9598a1"},
   "fillOpacity":{"condition":[{"test":"datum.z=='supply'","value":0.16},{"test":"datum.z=='breaker'","value":0.27}],"value":0.62},
   "stroke":{"value":"#9598a1"},
   "strokeOpacity":{"condition":{"test":"datum.z=='breaker'","value":0.6},"value":0}}},
 {"data":{"name":"ribbon"},"transform":[{"fold":["e8","e7","e6","e5","e4","e3","e2","e1"],"as":["s","v"]}],
  "mark":{"type":"line","strokeWidth":3,"interpolate":"monotone"},
  "encoding":{"x":{"field":"t","type":"temporal","title":null},"y":{"field":"v","type":"quantitative","scale":{"domain":[3736,4677],"range":[610,0],"nice":false,"zero":false},"axis":null},
   "color":{"field":"s","type":"nominal","scale":{"domain":["e1","e2","e3","e4","e5","e6","e7","e8"],"range":["#e9f53b","#f4df3c","#f7c73c","#f8ae3b","#f7943a","#f57839","#f2583b","#e8233f"]},"legend":null}}},
 {"data":{"name":"chanlines"},"mark":{"type":"line","color":"#2962ff","strokeWidth":1.5},
  "encoding":{"x":{"field":"t","type":"temporal","title":null},"y":{"field":"v","type":"quantitative","scale":{"domain":[3736,4677],"range":[610,0],"nice":false,"zero":false},"axis":null},"detail":{"field":"s"}}},
 {"data":{"name":"chanmid"},"mark":{"type":"line","color":"#3d6df5","strokeWidth":1.5,"strokeDash":[6,6]},
  "encoding":{"x":{"field":"t","type":"temporal","title":null},"y":{"field":"v","type":"quantitative","scale":{"domain":[3736,4677],"range":[610,0],"nice":false,"zero":false},"axis":null}}},
 {"data":{"name":"trend"},"mark":{"type":"line","color":"#ffffff","strokeWidth":1.2},
  "encoding":{"x":{"field":"t","type":"temporal","title":null},"y":{"field":"v","type":"quantitative","scale":{"domain":[3736,4677],"range":[610,0],"nice":false,"zero":false},"axis":null}}},
 {"data":{"name":"candles"},"mark":{"type":"rule","strokeWidth":1},
  "encoding":{"x":{"field":"t","type":"temporal","title":null},"y":{"field":"l","type":"quantitative","scale":{"domain":[3736,4677],"range":[610,0],"nice":false,"zero":false},"axis":null},"y2":{"field":"h"},
   "color":{"condition":{"test":"datum.c >= datum.o","value":"#26a69a"},"value":"#ef5350"}}},
 {"data":{"name":"candles"},"mark":{"type":"bar","size":6},
  "encoding":{"x":{"field":"t","type":"temporal","title":null},"y":{"field":"o","type":"quantitative","scale":{"domain":[3736,4677],"range":[610,0],"nice":false,"zero":false},"axis":null},"y2":{"field":"c"},
   "color":{"condition":{"test":"datum.c >= datum.o","value":"#26a69a"},"value":"#ef5350"}}},
 {"data":{"name":"levels"},"transform":[{"filter":"datum.k=='last'"}],"mark":{"type":"rule","color":"#f23645","strokeDash":[1,2],"strokeWidth":1},
  "encoding":{"x":{"field":"t0","type":"temporal","title":null},"x2":{"field":"t1"},"y":{"field":"v","type":"quantitative","scale":{"domain":[3736,4677],"range":[610,0],"nice":false,"zero":false},"axis":null}}},
 {"data":{"name":"levels"},"transform":[{"filter":"datum.k=='lvl'"}],"mark":{"type":"rule","color":"#ffffff","strokeDash":[6,6],"strokeWidth":1.2},
  "encoding":{"x":{"field":"t0","type":"temporal","title":null},"x2":{"field":"t1"},"y":{"field":"v","type":"quantitative","scale":{"domain":[3736,4677],"range":[610,0],"nice":false,"zero":false},"axis":null}}},
 {"data":{"name":"notes"},"mark":{"type":"text","color":"#ffffff","fontSize":15,"fontWeight":600,"align":"center","baseline":"middle"},
  "encoding":{"x":{"field":"t","type":"temporal","title":null},"y":{"field":"v","type":"quantitative","scale":{"domain":[3736,4677],"range":[610,0],"nice":false,"zero":false},"axis":null},"text":{"field":"txt"}}},
 {"data":{"name":"levels"},"transform":[{"filter":"datum.k=='last'"}],"mark":{"type":"rect","color":"#f23645","x2Offset":74,"yOffset":-10,"y2Offset":29},
  "encoding":{"x":{"field":"t1","type":"temporal","title":null},"x2":{"field":"t1"},"y":{"field":"v","type":"quantitative","scale":{"domain":[3736,4677],"range":[610,0],"nice":false,"zero":false},"axis":null},"y2":{"field":"v"}}},
 {"data":{"name":"levels"},"transform":[{"filter":"datum.k=='lvl'"}],"mark":{"type":"rect","color":"#ffffff","x2Offset":74,"yOffset":-10,"y2Offset":10},
  "encoding":{"x":{"field":"t1","type":"temporal","title":null},"x2":{"field":"t1"},"y":{"field":"v","type":"quantitative","scale":{"domain":[3736,4677],"range":[610,0],"nice":false,"zero":false},"axis":null},"y2":{"field":"v"}}},
 {"data":{"name":"levels"},"transform":[{"filter":"datum.k=='edge'"}],"mark":{"type":"rect","color":"#ffffff","x2Offset":74,"yOffset":-4,"y2Offset":0},
  "encoding":{"x":{"field":"t1","type":"temporal","title":null},"x2":{"field":"t1"},"y":{"field":"v","type":"quantitative","scale":{"domain":[3736,4677],"range":[610,0],"nice":false,"zero":false},"axis":null},"y2":{"field":"v"}}},
 {"data":{"name":"levels"},"transform":[{"filter":"datum.k=='unit'"}],"mark":{"type":"rect","fill":"#161a25","stroke":"#434651","strokeWidth":1,"cornerRadius":3,"xOffset":21,"x2Offset":65,"yOffset":8,"y2Offset":31},
  "encoding":{"x":{"field":"t1","type":"temporal","title":null},"x2":{"field":"t1"},"y":{"field":"v","type":"quantitative","scale":{"domain":[3736,4677],"range":[610,0],"nice":false,"zero":false},"axis":null},"y2":{"field":"v"}}},
 {"data":{"name":"levels"},"transform":[{"filter":"datum.k=='last'"}],"mark":{"type":"text","color":"#ffffff","fontSize":13,"align":"left","baseline":"middle","dx":13},
  "encoding":{"x":{"field":"t1","type":"temporal","title":null},"y":{"field":"v","type":"quantitative","scale":{"domain":[3736,4677],"range":[610,0],"nice":false,"zero":false},"axis":null},"text":{"field":"lab"}}},
 {"data":{"name":"levels"},"transform":[{"filter":"datum.k=='last'"}],"mark":{"type":"text","color":"#ffffff","fontSize":13,"align":"left","baseline":"middle","dx":13,"dy":19},
  "encoding":{"x":{"field":"t1","type":"temporal","title":null},"y":{"field":"v","type":"quantitative","scale":{"domain":[3736,4677],"range":[610,0],"nice":false,"zero":false},"axis":null},"text":{"field":"sub"}}},
 {"data":{"name":"levels"},"transform":[{"filter":"datum.k=='lvl'"}],"mark":{"type":"text","color":"#131722","fontSize":13,"align":"left","baseline":"middle","dx":13},
  "encoding":{"x":{"field":"t1","type":"temporal","title":null},"y":{"field":"v","type":"quantitative","scale":{"domain":[3736,4677],"range":[610,0],"nice":false,"zero":false},"axis":null},"text":{"field":"lab"}}},
 {"data":{"name":"levels"},"transform":[{"filter":"datum.k=='unit'"}],"mark":{"type":"text","color":"#d1d4dc","fontSize":12,"align":"center","baseline":"middle","dx":43,"dy":19.5},
  "encoding":{"x":{"field":"t1","type":"temporal","title":null},"y":{"field":"v","type":"quantitative","scale":{"domain":[3736,4677],"range":[610,0],"nice":false,"zero":false},"axis":null},"text":{"field":"lab"}}},
 {"data":{"name":"panes"},"transform":[{"filter":"datum.p=='macdtop'"}],"mark":{"type":"rule","color":"#2a2e39","strokeWidth":1.5},
  "encoding":{"y":{"field":"v","type":"quantitative","scale":{"domain":[-50,94],"range":[682,610],"nice":false,"zero":false},"axis":{"orient":"right","values":[0],"format":".2f","grid":true,"gridColor":"#242834","domain":true,"domainColor":"#2a2e39","labelColor":"#b2b5be","labelFontSize":13,"labelPadding":13,"title":null}}}},
 {"data":{"name":"candles"},"mark":{"type":"bar","size":6},
  "encoding":{"x":{"field":"t","type":"temporal","title":null},"y":{"field":"m","type":"quantitative","scale":{"domain":[-50,94],"range":[682,610],"nice":false,"zero":false},"axis":null},"y2":{"datum":0},
   "color":{"condition":[{"test":"datum.ms=='a'","value":"#26a69a"},{"test":"datum.ms=='b'","value":"#b2dfdb"},{"test":"datum.ms=='c'","value":"#ff5252"}],"value":"#ffcdd2"}}},
 {"data":{"name":"macd"},"mark":{"type":"line","color":"#2962ff","strokeWidth":1.4,"interpolate":"monotone"},
  "encoding":{"x":{"field":"t","type":"temporal","title":null},"y":{"field":"ml","type":"quantitative","scale":{"domain":[-50,94],"range":[682,610],"nice":false,"zero":false},"axis":null}}},
 {"data":{"name":"macd"},"mark":{"type":"line","color":"#ff6d00","strokeWidth":1.4,"interpolate":"monotone"},
  "encoding":{"x":{"field":"t","type":"temporal","title":null},"y":{"field":"sl","type":"quantitative","scale":{"domain":[-50,94],"range":[682,610],"nice":false,"zero":false},"axis":null}}},
 {"data":{"name":"panes"},"transform":[{"filter":"datum.p=='rsitop'"}],"mark":{"type":"rule","color":"#2a2e39","strokeWidth":1.5},
  "encoding":{"y":{"field":"v","type":"quantitative","scale":{"domain":[24,89.8],"range":[756,682],"nice":false,"zero":false},"axis":{"orient":"right","values":[40,80],"format":".2f","grid":true,"gridColor":"#242834","domain":true,"domainColor":"#2a2e39","labelColor":"#b2b5be","labelFontSize":13,"labelPadding":13,"title":null}}}},
 {"data":{"name":"rsilev"},"transform":[{"filter":"datum.v==70"}],"mark":{"type":"rect","color":"#7e57c2","opacity":0.1},
  "encoding":{"y":{"field":"v","type":"quantitative","scale":{"domain":[24,89.8],"range":[756,682],"nice":false,"zero":false},"axis":null},"y2":{"datum":30}}},
 {"data":{"name":"rsilev"},"mark":{"type":"rule","color":"#787b86","strokeDash":[4,4],"strokeWidth":1},
  "encoding":{"y":{"field":"v","type":"quantitative","scale":{"domain":[24,89.8],"range":[756,682],"nice":false,"zero":false},"axis":null}}},
 {"data":{"name":"rsi"},"mark":{"type":"line","color":"#7e57c2","strokeWidth":1.3},
  "encoding":{"x":{"field":"t","type":"temporal","title":null},
   "y":{"field":"r","type":"quantitative","scale":{"domain":[24,89.8],"range":[756,682],"nice":false,"zero":false},"axis":null}}}
],
"resolve":{"scale":{"y":"independent"}}
}
